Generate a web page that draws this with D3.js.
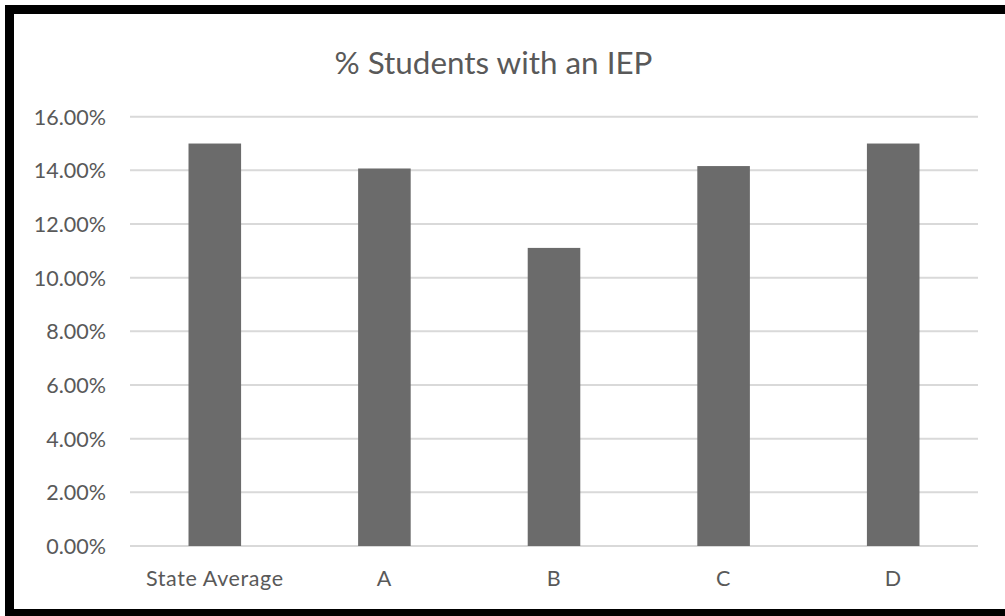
<!DOCTYPE html>
<html>
<head>
<meta charset="utf-8">
<script src="https://cdn.jsdelivr.net/npm/d3@7"></script>
<style>
  html, body { margin: 0; padding: 0; background: #fff; }
  svg { display: block; }
</style>
</head>
<body>
<svg id="chart" width="1005" height="616"></svg>
<script>
// Share of students with an IEP, by group
const categories = ["State Average", "A", "B", "C", "D"];
const values = [0.150, 0.1407, 0.1111, 0.1416, 0.150];
const yTicks = [0, 0.02, 0.04, 0.06, 0.08, 0.10, 0.12, 0.14, 0.16];
const title = "% Students with an IEP";

const W = 1005, H = 616;
const svg = d3.select("#chart");
const font = "Lato, 'Open Sans', sans-serif";
const textColor = "#595959";

// frame
svg.append("rect").attr("x", 0).attr("y", 0).attr("width", W).attr("height", H).attr("fill", "#fff");
svg.append("rect")
  .attr("x", 9.5).attr("y", 9.5).attr("width", W + 20).attr("height", H - 12)
  .attr("fill", "none").attr("stroke", "#000").attr("stroke-width", 9);

const plot = { left: 130, right: 978, top: 116.7, bottom: 546 };

const x = d3.scaleBand()
  .domain(categories)
  .range([plot.left, plot.right])
  .paddingInner(0.69)
  .paddingOuter(0.345);

const y = d3.scaleLinear()
  .domain([0, 0.16])
  .range([plot.bottom, plot.top]);

// gridlines
svg.append("g")
  .selectAll("line")
  .data(yTicks)
  .join("line")
  .attr("x1", plot.left).attr("x2", plot.right)
  .attr("y1", d => y(d)).attr("y2", d => y(d))
  .attr("stroke", "#d9d9d9").attr("stroke-width", 2);

// y axis labels
const yAxis = d3.axisLeft(y).tickValues(yTicks).tickFormat(d3.format(".2%")).tickSize(0).tickPadding(0);
const gy = svg.append("g").attr("transform", `translate(${plot.left - 24},0)`).call(yAxis);
gy.select(".domain").remove();
gy.selectAll("text")
  .attr("fill", textColor)
  .attr("font-family", font)
  .attr("font-size", 21.5)
  .attr("dy", "0.35em");

// bars
svg.append("g")
  .selectAll("rect")
  .data(values)
  .join("rect")
  .attr("x", (d, i) => x(categories[i]))
  .attr("width", x.bandwidth())
  .attr("y", d => y(d))
  .attr("height", d => y(0) - y(d))
  .attr("fill", "#6b6b6b");

// x axis labels
const xAxis = d3.axisBottom(x).tickSize(0).tickPadding(0);
const gx = svg.append("g").attr("transform", `translate(0,${plot.bottom + 32})`).call(xAxis);
gx.select(".domain").remove();
gx.selectAll("text")
  .attr("fill", textColor)
  .attr("font-family", font)
  .attr("font-size", 21.5)
  .attr("letter-spacing", "0.6px")
  .attr("dy", "0.35em");

// title
svg.append("text")
  .attr("x", 493.5).attr("y", 62)
  .attr("text-anchor", "middle")
  .attr("dominant-baseline", "central")
  .attr("fill", textColor)
  .attr("font-family", font)
  .attr("font-size", 31.4)
  .text(title);
</script>
</body>
</html>
